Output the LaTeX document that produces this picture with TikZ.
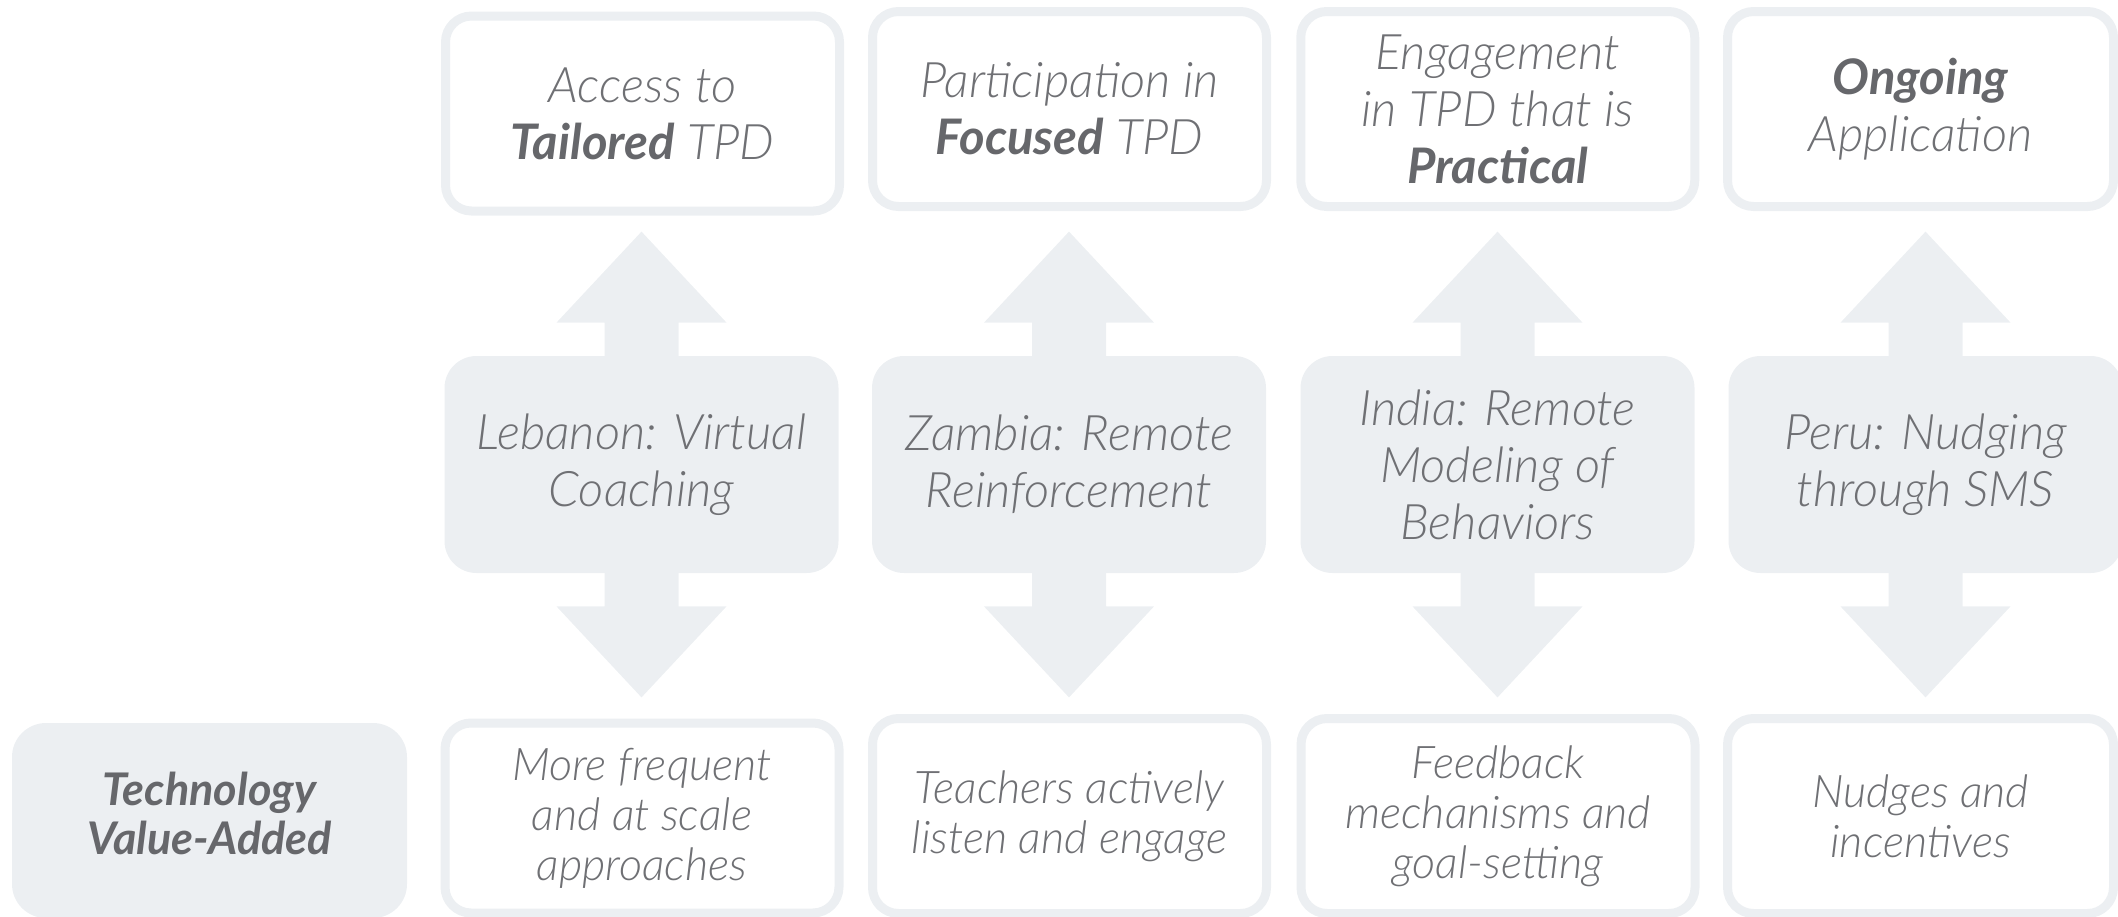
\documentclass[tikz,border=0pt]{standalone}
\usepackage{fontspec}
\IfFontExistsTF{Lato Light Italic}
	{\setmainfont{Lato}[ItalicFont={Lato Light Italic},BoldItalicFont={Lato Bold Italic}]}
	{\setmainfont{Lato}}
\usetikzlibrary{calc}
\definecolor{pale}{HTML}{ECEFF2}
\definecolor{ink}{HTML}{6F7074}
\definecolor{inkdark}{HTML}{66676B}
\newcommand{\hl}[1]{\textbf{\color{inkdark}#1}}

\begin{document}
\begin{tikzpicture}
	[x=0.5pt,y=-0.5pt,every node/.style={align=center,text=ink,inner sep=0pt,font=\itshape\fontsize{24.5}{28.5}\selectfont},
	goal/.style={draw=pale,line width=4.5pt,rounded corners=13pt,fill=white,minimum width=197pt,minimum height=97.5pt},
	study/.style={fill=pale,rounded corners=16pt,minimum width=197pt,minimum height=108.5pt},
	gain/.style={goal,font=\itshape\fontsize{22.5}{25}\selectfont}]
	\useasboundingbox (0,0) rectangle (2118,916);
	\clip (0,0) rectangle (2118,916);
	
	\node[goal] (acc) at (642.5,113.5) {Access to\\\hl{Tailored} TPD};
	\node[goal] (par) at (1069.5,109) {Participation in\\\hl{Focused} TPD};
	\node[goal] (eng) at (1497.75,109) {Engagement\\in TPD that is\\\hl{Practical}};
	\node[goal,minimum width=193pt] (ong) at (1920.5,109) {\hl{Ongoing}\\Application};
	
	\node[study] (leb) at (641.5,464.5) {Lebanon: Virtual\\Coaching};
	\node[study] (zam) at (1069,464.5) {Zambia: Remote\\Reinforcement};
	\node[study] (ind) at (1497.5,464.5) {India: Remote\\Modeling of\\Behaviors};
	\node[study] (per) at (1925.5,464.5) {Peru: Nudging\\through SMS};
	
	\node[fill=pale,rounded corners=17pt,minimum width=197.5pt,minimum height=97.5pt] (tech) at (209.5,820.5) {};
	\node[font=\bfseries\itshape\fontsize{22.5}{24.5}\selectfont,text=inkdark] (techtxt) at ($(tech)+(0,-7)$) {Technology\\Value-Added};
	\node[gain,minimum height=95pt] (freq) at (642,818) {More frequent\\and at scale\\approaches};
	\node[gain] (lis) at (1069.5,816) {Teachers actively\\listen and engage};
	\node[gain] (fb) at (1498,816) {Feedback\\mechanisms and\\goal-setting};
	\node[gain,minimum width=193pt] (nud) at (1920.5,816) {Nudges and\\incentives};
	
	\foreach \t/\m/\b in {acc/leb/freq,par/zam/lis,eng/ind/fb,ong/per/nud}{
		\coordinate (up) at ($(\m.north)!62pt!(\m.north|-\t.south)$);
		\coordinate (dn) at ($(\m.south)!62pt!(\m.south|-\b.north)$);
		\fill[pale] ($(\m.north)+(-37,1)$) -- ++(0,-34) -- ++(-48,0) -- (up) -- ($(up)+(85,91)$) -- ++(-48,0) -- ++(0,34) -- cycle;
		\fill[pale] ($(\m.south)+(-37,-1)$) -- ++(0,34) -- ++(-48,0) -- (dn) -- ($(dn)+(85,-91)$) -- ++(-48,0) -- ++(0,-34) -- cycle;
	}
\end{tikzpicture}
\end{document}
